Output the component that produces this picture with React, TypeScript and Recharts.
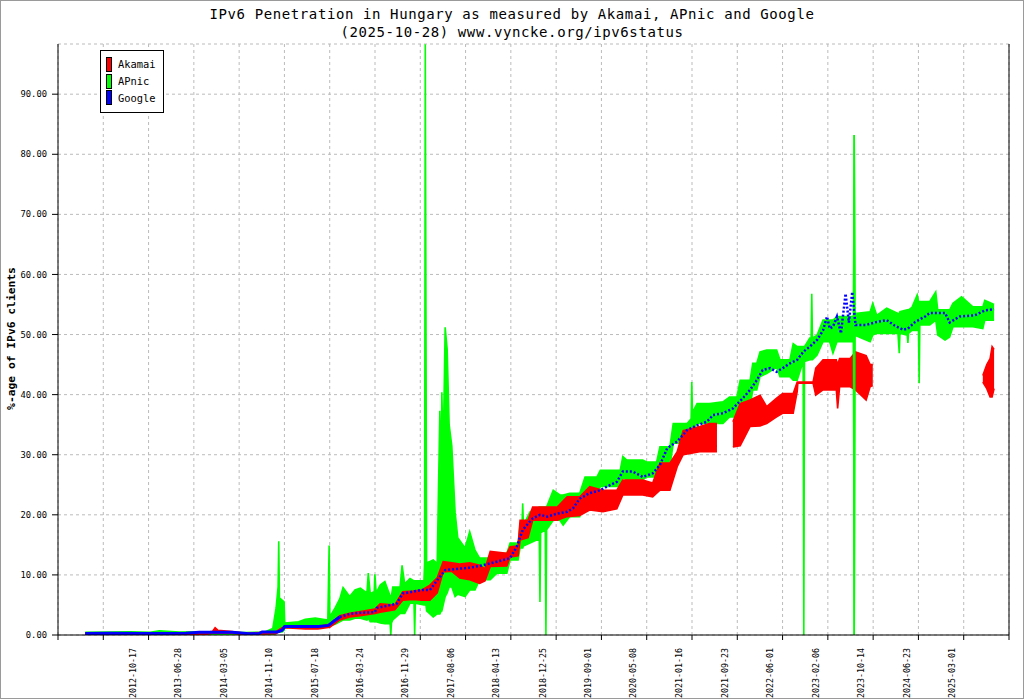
import {
  Area,
  CartesianGrid,
  ComposedChart,
  Legend,
  Line,
  ReferenceLine,
  XAxis,
  YAxis,
} from 'recharts';

const MONO = '"DejaVu Sans Mono", "Liberation Mono", monospace';
const X_START = 2011.67;
const X_END = 2026.015;
const Y_MAX = 98.35;

const dateLabels = [
  '2012-10-17', '2013-06-28', '2014-03-05', '2014-11-10', '2015-07-18', '2016-03-24',
  '2016-11-29', '2017-08-06', '2018-04-13', '2018-12-25', '2019-09-01', '2020-05-08',
  '2021-01-16', '2021-09-23', '2022-06-01', '2023-02-06', '2023-10-14', '2024-06-23',
  '2025-03-01',
];
const yTicks = [0, 10, 20, 30, 40, 50, 60, 70, 80, 90];

// Akamai: daily noise shown as a low/high band (null = no data)
const akamaiYears = [
  2012.08, 2013.9, 2014.0, 2014.04, 2014.08, 2014.26, 2014.5, 2014.95, 2015.05, 2015.09,
  2015.4, 2015.59, 2015.77, 2015.92, 2016.07, 2016.23, 2016.45, 2016.53, 2016.75, 2016.87,
  2017.02, 2017.16, 2017.28, 2017.39, 2017.48, 2017.61, 2017.73, 2017.88, 2018.03, 2018.11,
  2018.19, 2018.44, 2018.49, 2018.61, 2018.64, 2018.76, 2018.83, 2019.0, 2019.2, 2019.35,
  2019.54, 2019.69, 2019.89, 2020.1, 2020.19, 2020.49, 2020.64, 2020.75, 2020.9, 2021.01,
  2021.1, 2021.35, 2021.5, 2021.61, 2021.72, 2021.85, 2021.96, 2022.11, 2022.26, 2022.36,
  2022.51, 2022.6, 2022.76, 2022.82, 2022.83, 2023.06, 2023.1, 2023.21, 2023.41, 2023.43,
  2023.46, 2023.62, 2023.7, 2023.86, 2023.92, 2023.96, 2024.8, 2025.62, 2025.68, 2025.73,
  2025.76, 2025.79,
];
const akamaiLow = [
  0.1, 0.1, 0.3, 0.3, 0.3, 0.3, 0.1, 0.2, 0.8, 1.2,
  1.0, 1.0, 1.3, 2.5, 3.0, 3.2, 3.6, 3.8, 4.2, 5.8,
  5.9, 5.8, 5.8, 7.0, 10.5, 10.6, 9.5, 9.2, 8.6, 9.0,
  11.4, 11.5, 13.0, 13.2, 15.8, 16.2, 19.1, 19.1, 19.1, 19.7,
  19.9, 20.8, 20.5, 21.0, 23.3, 23.3, 23.0, 24.1, 24.1, 28.0,
  30.0, 30.5, 30.5, 30.5, null, 31.3, 31.5, 34.7, 34.8, 35.2,
  36.3, 36.9, 36.9, 40.5, 41.9, 41.9, 39.9, 40.8, 40.8, 37.7,
  41.3, 41.3, 40.8, 39.1, 41.3, 41.5, null, 42.1, 41.0, 39.6,
  39.6, 41.0,
];
const akamaiHigh = [
  0.3, 0.4, 0.6, 1.2, 0.8, 0.6, 0.3, 0.5, 1.2, 1.5,
  1.5, 1.4, 1.8, 3.2, 3.6, 3.9, 4.3, 5.2, 5.0, 7.2,
  7.3, 7.5, 8.3, 9.5, 12.2, 12.0, 11.8, 12.0, 11.6, 11.0,
  13.9, 13.6, 14.7, 14.8, 19.1, 19.1, 21.3, 21.3, 21.3, 23.0,
  23.0, 24.7, 24.1, 24.1, 25.8, 25.8, 25.3, 28.6, 28.6, 30.5,
  34.0, 34.7, 35.2, 35.2, null, 35.5, 38.5, 39.1, 39.9, 38.0,
  39.4, 40.2, 40.2, 42.1, 42.1, 42.1, 44.4, 45.8, 45.8, 45.0,
  46.0, 46.0, 47.1, 46.5, 45.0, 45.0, null, 43.2, 45.0, 46.0,
  48.0, 47.5,
];

// APnic: low/high band
const apnicYears = [
  2012.08, 2012.45, 2012.76, 2013.06, 2013.2, 2013.5, 2013.8, 2014.1, 2014.5, 2014.79,
  2014.91, 2014.96, 2014.99, 2015.0, 2015.01, 2015.05, 2015.08, 2015.09, 2015.3, 2015.4,
  2015.55, 2015.74, 2015.76, 2015.77, 2015.85, 2015.92, 2015.97, 2016.07, 2016.15, 2016.23,
  2016.33, 2016.35, 2016.38, 2016.44, 2016.45, 2016.47, 2016.53, 2016.6, 2016.68, 2016.69,
  2016.7, 2016.72, 2016.83, 2016.86, 2016.9, 2016.98, 2017.04, 2017.05, 2017.06, 2017.19,
  2017.2, 2017.21, 2017.22, 2017.23, 2017.33, 2017.39, 2017.43, 2017.45, 2017.46, 2017.48,
  2017.51, 2017.54, 2017.57, 2017.61, 2017.66, 2017.7, 2017.81, 2017.88, 2017.96, 2018.03,
  2018.19, 2018.29, 2018.44, 2018.49, 2018.61, 2018.64, 2018.67, 2018.68, 2018.69, 2018.79,
  2018.93, 2018.94, 2018.95, 2019.02, 2019.03, 2019.04, 2019.14, 2019.24, 2019.29, 2019.39,
  2019.54, 2019.62, 2019.8, 2019.85, 2020.15, 2020.19, 2020.25, 2020.49, 2020.55, 2020.7,
  2020.75, 2020.9, 2020.95, 2021.16, 2021.22, 2021.23, 2021.24, 2021.31, 2021.5, 2021.7,
  2021.8, 2021.91, 2021.96, 2022.11, 2022.15, 2022.21, 2022.26, 2022.36, 2022.51, 2022.56,
  2022.71, 2022.76, 2022.82, 2022.91, 2022.92, 2022.93, 2023.01, 2023.03, 2023.04, 2023.05,
  2023.12, 2023.21, 2023.31, 2023.36, 2023.42, 2023.67, 2023.68, 2023.69, 2023.92, 2023.96,
  2024.02, 2024.17, 2024.34, 2024.36, 2024.37, 2024.48, 2024.49, 2024.5, 2024.55, 2024.63,
  2024.65, 2024.66, 2024.67, 2024.82, 2024.91, 2024.94, 2025.05, 2025.12, 2025.17, 2025.3,
  2025.47, 2025.62, 2025.65, 2025.79,
];
const apnicLow = [
  0.05, 0.0, 0.05, 0.0, 0.05, 0.0, 0.05, 0.0, 0.0, 0.0,
  0.0, 0.3, 0.5, 0.5, 0.5, 0.5, 0.8, 1.2, 1.3, 1.4,
  1.4, 1.3, 1.5, 1.5, 1.8, 2.2, 2.5, 2.5, 2.8, 2.8,
  2.5, 2.8, 2.2, 2.2, 2.2, 2.2, 2.0, 1.9, 1.9, 0.0,
  2.0, 2.5, 3.6, 3.6, 3.6, 5.3, 5.3, 0.0, 5.3, 5.0,
  5.0, 5.0, 5.0, 4.0, 3.0, 3.5, 3.5, 4.0, 4.0, 5.0,
  6.4, 7.0, 8.0, 8.0, 6.4, 6.8, 6.4, 7.5, 7.5, 9.2,
  9.2, 10.3, 10.3, 12.5, 12.5, 14.5, 14.5, 14.5, 14.8, 15.3,
  16.0, 5.5, 17.0, 17.5, 0.0, 17.5, 19.1, 19.1, 18.3, 19.7,
  19.7, 23.0, 23.0, 24.7, 24.7, 26.3, 25.8, 25.8, 26.3, 26.3,
  28.0, 28.0, 31.9, 31.9, 33.5, 34.0, 34.0, 35.2, 35.2, 35.2,
  36.3, 36.3, 38.0, 38.0, 40.8, 40.8, 43.0, 43.5, 44.6, 43.0,
  43.0, 42.4, 42.4, 45.5, 0.0, 45.5, 45.8, 45.8, 45.8, 45.8,
  46.6, 48.8, 48.8, 46.9, 48.8, 48.8, 0.0, 49.9, 48.8, 49.9,
  50.2, 50.2, 50.2, 46.9, 50.2, 49.9, 48.6, 50.2, 50.7, 50.7,
  50.7, 41.9, 51.6, 51.6, 52.4, 49.9, 49.1, 49.6, 51.3, 51.3,
  51.3, 51.0, 52.4, 52.4,
];
const apnicHigh = [
  0.45, 0.5, 0.55, 0.45, 0.7, 0.5, 0.55, 0.5, 0.4, 0.5,
  1.1, 4.5, 8.0, 15.6, 6.2, 5.8, 5.5, 2.0, 2.2, 2.6,
  2.8, 2.5, 14.9, 3.0, 4.5, 6.0, 7.9, 6.4, 7.5, 7.8,
  7.0, 10.3, 6.9, 7.2, 10.1, 7.0, 8.3, 8.9, 6.5, 6.0,
  6.5, 8.0, 8.0, 11.6, 8.5, 9.4, 9.0, 9.0, 9.0, 9.0,
  12.0, 98.3, 54.6, 12.0, 12.5, 11.9, 37.3, 25.0, 40.4, 30.0,
  51.2, 47.6, 35.0, 31.5, 20.4, 16.2, 14.5, 17.2, 14.1, 12.8,
  12.8, 13.6, 13.6, 15.3, 15.3, 18.3, 18.5, 21.9, 18.3, 20.5,
  21.3, 21.3, 21.3, 21.3, 21.3, 21.3, 24.1, 23.3, 23.3, 23.6,
  23.6, 26.3, 26.3, 27.4, 27.4, 29.7, 29.1, 29.1, 28.8, 28.8,
  31.3, 31.3, 35.2, 35.2, 36.0, 42.1, 37.0, 38.5, 38.5, 38.8,
  39.6, 39.6, 42.4, 42.4, 45.2, 45.2, 47.1, 47.4, 47.4, 45.8,
  45.8, 48.5, 48.0, 48.0, 48.0, 48.0, 49.4, 49.4, 56.8, 49.4,
  49.9, 52.4, 52.4, 52.4, 53.0, 53.0, 83.2, 53.5, 53.8, 55.2,
  53.2, 54.4, 53.5, 53.5, 53.8, 54.1, 54.1, 54.1, 54.5, 56.6,
  55.5, 55.5, 55.5, 55.5, 57.1, 54.1, 54.1, 54.1, 55.2, 56.3,
  54.6, 54.6, 55.7, 55.0,
];

// Google
const googleYears = [
  2012.08, 2012.45, 2012.9, 2013.3, 2013.6, 2013.8, 2014.3, 2014.55, 2014.7, 2014.75,
  2014.98, 2015.05, 2015.09, 2015.6, 2015.75, 2015.82, 2015.92, 2016.07, 2016.23, 2016.45,
  2016.48, 2016.78, 2016.87, 2017.02, 2017.16, 2017.28, 2017.39, 2017.51, 2017.69, 2017.88,
  2018.08, 2018.29, 2018.49, 2018.59, 2018.68, 2018.83, 2018.94, 2019.05, 2019.2, 2019.35,
  2019.44, 2019.54, 2019.69, 2019.85, 2019.95, 2020.1, 2020.19, 2020.34, 2020.49, 2020.64,
  2020.75, 2020.86, 2021.01, 2021.16, 2021.31, 2021.46, 2021.55, 2021.7, 2021.85, 2022.0,
  2022.11, 2022.21, 2022.3, 2022.41, 2022.51, 2022.6, 2022.71, 2022.82, 2022.91, 2023.01,
  2023.12, 2023.21, 2023.27, 2023.31, 2023.36, 2023.42, 2023.48, 2023.55, 2023.6, 2023.65,
  2023.7, 2023.86, 2024.02, 2024.17, 2024.29, 2024.42, 2024.49, 2024.6, 2024.75, 2024.82,
  2025.05, 2025.12, 2025.27, 2025.5, 2025.65, 2025.79,
];
const googleValues = [
  0.25, 0.3, 0.25, 0.25, 0.3, 0.45, 0.45, 0.2, 0.25, 0.5,
  0.5, 0.8, 1.4, 1.4, 1.6, 2.2, 3.0, 3.5, 3.7, 3.8,
  4.5, 5.2, 6.9, 7.2, 7.5, 7.5, 9.1, 10.8, 11.0, 11.2,
  11.6, 12.2, 12.8, 14.7, 17.5, 19.4, 20.0, 19.7, 20.2, 20.5,
  21.1, 22.7, 23.6, 24.1, 24.7, 25.5, 27.2, 27.2, 26.3, 26.9,
  28.3, 31.1, 32.2, 34.1, 34.9, 35.5, 36.6, 36.9, 37.7, 39.4,
  40.8, 42.4, 44.1, 44.4, 43.8, 44.4, 45.2, 45.8, 47.1, 48.0,
  49.1, 50.7, 53.0, 51.0, 51.3, 53.0, 50.2, 56.8, 52.0, 57.1,
  51.6, 51.6, 52.1, 52.4, 51.5, 50.8, 51.0, 52.1, 53.0, 53.6,
  53.6, 52.0, 53.0, 53.2, 54.0, 54.2,
];

const SERIES = [
  { name: 'Akamai', color: '#ff0000' },
  { name: 'APnic', color: '#00ff00' },
  { name: 'Google', color: '#0000ff' },
];

const toBand = (years: number[], low: (number | null)[], high: (number | null)[]) =>
  years.map((year, i) => ({
    year,
    range: low[i] == null || high[i] == null ? null : [low[i], high[i]],
  }));

const akamaiData = toBand(akamaiYears, akamaiLow, akamaiHigh);
const apnicData = toBand(apnicYears, apnicLow, apnicHigh);
// the big 2023 outlier is painted again above the Akamai band, as in the original
const apnicSpike = apnicData.filter((d) => d.year >= 2023.67 && d.year <= 2023.69);
const googleData = googleYears.map((year, i) => ({ year, value: googleValues[i] }));
const googleEarly = googleData.filter((d) => d.year <= 2015.92);
const googleLate = googleData.filter((d) => d.year >= 2015.92);

function dateToYear(s: string) {
  const [y, m, d] = s.split('-').map(Number);
  const day = (Date.UTC(y, m - 1, d) - Date.UTC(y, 0, 1)) / 86400000;
  return y + day / 365.25;
}
const labelYears = dateLabels.map(dateToYear);
const gridTicks = Array.from({ length: 22 }, (_, k) => X_START + (k * (X_END - X_START)) / 21);
// tick marks sit on the grid, date labels sit between them
const axisTicks = [...gridTicks, ...labelYears].sort((a, b) => a - b);
const labelOf = new Map(labelYears.map((v, i) => [v, dateLabels[i]]));

function AxisTick(props: any) {
  const { x, y, payload } = props;
  const label = labelOf.get(payload.value);
  if (label === undefined) {
    return <line x1={x} x2={x} y1={y} y2={y + 5} stroke="#000" />;
  }
  return (
    <text
      transform={`translate(${x},${y + 13}) rotate(-90)`}
      textAnchor="end"
      dominantBaseline="central"
      fontFamily={MONO}
      fontSize={8.3}
      fill="#000"
    >
      {label}
    </text>
  );
}

// vertical grid at the tick marks only
const gridX = ({ xAxis, offset }: any) =>
  gridTicks.map((t) =>
    xAxis && typeof xAxis.scale === 'function'
      ? xAxis.scale(t)
      : offset.left + ((t - X_START) / (X_END - X_START)) * offset.width,
  );

function LegendBox() {
  return (
    <div
      style={{
        border: '1px solid #000',
        background: '#fff',
        padding: '5px 7px 6px 5px',
        fontFamily: MONO,
        fontSize: 10.4,
      }}
    >
      {SERIES.map((s) => (
        <div key={s.name} style={{ display: 'flex', alignItems: 'center', height: 16.7 }}>
          <span
            style={{
              display: 'inline-block',
              width: 4,
              height: 13,
              background: s.color,
              border: '1px solid #000',
              marginRight: 6,
            }}
          />
          {s.name}
        </div>
      ))}
    </div>
  );
}

export default function App() {
  return (
    <div style={{ position: 'relative', width: 1024, height: 700, background: '#fff' }}>
      <style>{'body{margin:0;background:#fff}'}</style>
      <ComposedChart
        width={1024}
        height={700}
        margin={{ top: 44, right: 15, left: 0, bottom: 0 }}
      >
        <CartesianGrid
          stroke="#bbbbbb"
          strokeDasharray="3 3"
          verticalCoordinatesGenerator={gridX}
        />
        <XAxis
          type="number"
          dataKey="year"
          domain={[X_START, X_END]}
          ticks={axisTicks}
          interval={0}
          tick={<AxisTick />}
          tickLine={false}
          tickSize={0}
          tickMargin={0}
          axisLine={{ stroke: '#000' }}
          height={65}
          allowDataOverflow
        />
        <YAxis
          type="number"
          domain={[0, Y_MAX]}
          ticks={yTicks}
          interval={0}
          width={58}
          tickSize={6}
          tickMargin={5}
          tickFormatter={(v: number) => v.toFixed(2)}
          tick={{ fontFamily: MONO, fontSize: 8.8, fill: '#000' }}
          tickLine={{ stroke: '#000' }}
          axisLine={{ stroke: '#000' }}
          allowDataOverflow
        />
        <Area
          data={apnicData}
          dataKey="range"
          name="APnic"
          type="linear"
          stroke="#00ff00"
          strokeWidth={1.6}
          fill="#00ff00"
          fillOpacity={1}
          dot={false}
          activeDot={false}
          isAnimationActive={false}
        />
        <Area
          data={akamaiData}
          dataKey="range"
          name="Akamai"
          type="linear"
          stroke="#ff0000"
          strokeWidth={1.6}
          fill="#ff0000"
          fillOpacity={1}
          dot={false}
          activeDot={false}
          isAnimationActive={false}
        />
        <Area
          data={apnicSpike}
          dataKey="range"
          name="APnic outlier"
          legendType="none"
          type="linear"
          stroke="#00ff00"
          strokeWidth={1.6}
          fill="#00ff00"
          fillOpacity={1}
          dot={false}
          activeDot={false}
          isAnimationActive={false}
        />
        <Line
          data={googleEarly}
          dataKey="value"
          name="Google"
          type="linear"
          stroke="#0000ff"
          strokeWidth={3}
          dot={false}
          activeDot={false}
          isAnimationActive={false}
        />
        <Line
          data={googleLate}
          dataKey="value"
          name="Google (weekly)"
          legendType="none"
          type="linear"
          stroke="#0000ff"
          strokeWidth={2.5}
          strokeDasharray="2 2"
          dot={false}
          activeDot={false}
          isAnimationActive={false}
        />
        <ReferenceLine x={X_END} stroke="#000" />
        <Legend
          layout="horizontal"
          verticalAlign="middle"
          align="center"
          content={<LegendBox />}
          wrapperStyle={{ left: 100, top: 50, width: 'auto', height: 'auto' }}
        />
      </ComposedChart>
      <svg
        width={1024}
        height={700}
        style={{ position: 'absolute', left: 0, top: 0, pointerEvents: 'none' }}
      >
        <text x={512} y={18.5} textAnchor="middle" fontFamily={MONO} fontSize={14} letterSpacing={0.6}>
          IPv6 Penetration in Hungary as measured by Akamai, APnic and Google
        </text>
        <text x={512} y={36.5} textAnchor="middle" fontFamily={MONO} fontSize={14} letterSpacing={0.6}>
          (2025-10-28) www.vyncke.org/ipv6status
        </text>
        <text
          transform="translate(15,338.5) rotate(-90)"
          textAnchor="middle"
          fontFamily={MONO}
          fontSize={11.3}
          fontWeight="bold"
        >
          %-age of IPv6 clients
        </text>
      </svg>
      <div
        style={{
          position: 'absolute',
          left: 0,
          top: 0,
          width: 1024,
          height: 699,
          boxSizing: 'border-box',
          border: '1px solid #9a9a9a',
          pointerEvents: 'none',
        }}
      />
    </div>
  );
}
